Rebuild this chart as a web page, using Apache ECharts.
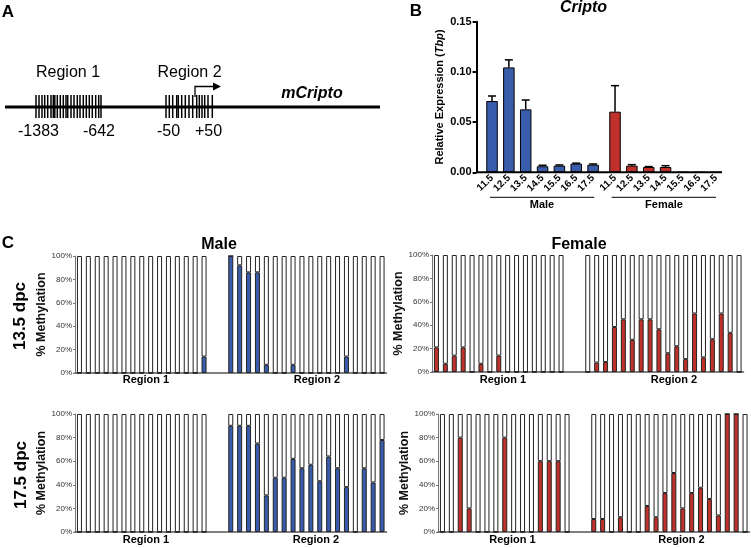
<!DOCTYPE html>
<html><head><meta charset="utf-8">
<script src="https://cdn.jsdelivr.net/npm/echarts@6/dist/echarts.min.js"></script>
<style>html,body{margin:0;padding:0;background:#fff}#c{width:751px;height:548px}</style>
</head><body><div id="c"></div>
<script>
// ---------- Panel B data: Cripto relative expression (Tbp) ----------
const stages = ['11.5','12.5','13.5','14.5','15.5','16.5','17.5'];
const maleExpr   = [0.0710, 0.1045, 0.0627, 0.0060, 0.0066, 0.0086, 0.0076];
const maleErr    = [0.0050, 0.0075, 0.0093, 0.0010, 0.0007, 0.0005, 0.0007];
const femaleExpr = [0.0604, 0.0066, 0.0053, 0.0053, 0, 0, 0];
const femaleErr  = [0.0259, 0.0010, 0.0004, 0.0013, 0, 0, 0];
const exprTicks  = [0, 0.05, 0.10, 0.15];

// ---------- Panel C data: % methylation per CpG ----------
const male135_r1   = [0,0,0,0,0,0,0,0,0,0,0,0,0,0,14];
const male135_r2   = [100,92,86,86,7,0,0,7,0,0,0,0,0,14,0,0,0,0];
const male175_r1   = [0,0,0,0,0,0,0,0,0,0,0,0,0,0,0];
const male175_r2   = [90,90,90,75,31,46,46,62,54,57,43,64,54,38,0,54,42,78];
const female135_r1 = [21,7,14,21,0,7,0,14,0,0,0,0,0,0,0];
const female135_r2 = [0,8,8.5,38.5,45,27.5,45,45,36.5,16,22,11,50,12.5,28,50,33.5,0];
const female175_r1 = [0,0,80,20,0,0,0,80,0,0,0,60,60,60,0];
const female175_r2 = [11,11,0,12.5,0,0,22,12.5,33,50,20,33,37.5,28,14,100,100,0];
const methTicks = [0,20,40,60,80,100];

const BLUE = '#3A5DAB', RED = '#C0312B';
const FF = '"Liberation Sans", Arial, Helvetica, sans-serif';

const chart = echarts.init(document.getElementById('c'));

// ----- grids -----
const grid = [
  {left:483.6, top:21.7, width:117.9, height:150.6},   // B male
  {left:606.6, top:21.7, width:117.9, height:150.6},   // B female
  {left:75,  top:256, width:311.5, height:117},        // C male 13.5
  {left:75,  top:414, width:311.5, height:118},        // C male 17.5
  {left:432, top:255, width:311.5, height:117},        // C female 13.5
  {left:438, top:414, width:311.5, height:118}         // C female 17.5
];

const GAP = 2;
const nSlots = male135_r1.length + GAP + male135_r2.length;
const slotCats = Array.from({length:nSlots}, (_,i)=>String(i));

const xAxis = [], yAxis = [], series = [];
[0,1].forEach(g=>{
  xAxis.push({type:'category', gridIndex:g, data:stages,
    axisLine:{show:false}, axisTick:{show:false},
    axisLabel:{rotate:45, interval:0, fontSize:10, fontWeight:'bold', color:'#000', margin:4, fontFamily:FF}});
});
yAxis.push({type:'value', gridIndex:0, min:exprTicks[0], max:exprTicks[exprTicks.length-1], interval:0.05, offset:7,
  axisLine:{show:true, lineStyle:{color:'#000', width:2}},
  axisTick:{show:true, length:4, lineStyle:{color:'#000', width:2}},
  axisLabel:{formatter:v=>v.toFixed(2), fontSize:11, fontWeight:'bold', color:'#000', margin:5, fontFamily:FF},
  splitLine:{show:false},
  name:'Relative Expression ({i|Tbp})', nameLocation:'middle', nameGap:31,
  nameTextStyle:{fontSize:11, fontWeight:'bold', color:'#000', fontFamily:FF,
    rich:{i:{fontStyle:'italic', fontWeight:'bold', fontSize:11, fontFamily:FF, color:'#000'}}}});
yAxis.push({type:'value', gridIndex:1, min:exprTicks[0], max:exprTicks[exprTicks.length-1], show:false});

function errItem(params, api){
  const x = api.value(0), v = api.value(1), e = api.value(2);
  if (!(e > 0)) return null;
  const p0 = api.coord([x, v]), p1 = api.coord([x, v + e]);
  return {type:'group', children:[
    {type:'line', shape:{x1:p0[0], y1:p0[1], x2:p1[0], y2:p1[1]}, style:{stroke:'#000', lineWidth:1.5}},
    {type:'line', shape:{x1:p1[0]-4, y1:p1[1], x2:p1[0]+4, y2:p1[1]}, style:{stroke:'#000', lineWidth:1.5}}
  ]};
}
[[maleExpr, maleErr, BLUE],[femaleExpr, femaleErr, RED]].forEach(([vals, errs, col], g)=>{
  series.push({type:'bar', xAxisIndex:g, yAxisIndex:g, data:vals, barWidth:11.5,
    itemStyle:{color:col, borderColor:'#000', borderWidth:1}, silent:true});
  series.push({type:'custom', xAxisIndex:g, yAxisIndex:g, renderItem:errItem, z:5,
    encode:{x:0, y:1}, data:vals.map((v,i)=>[i, v, errs[i]]), silent:true});
});

const cPanels = [
  [male135_r1, male135_r2, BLUE, 19.5],
  [male175_r1, male175_r2, BLUE, 19.5],
  [female135_r1, female135_r2, RED, 18.5],
  [female175_r1, female175_r2, RED, 19]
];
cPanels.forEach(([r1, r2, col, ng], k)=>{
  const g = k + 2;
  xAxis.push({type:'category', gridIndex:g, data:slotCats,
    axisLine:{show:true, lineStyle:{color:'#555', width:1.5}}, axisTick:{show:false}, axisLabel:{show:false}});
  yAxis.push({type:'value', gridIndex:g, min:methTicks[0], max:methTicks[methTicks.length-1], interval:20,
    axisLine:{show:true, lineStyle:{color:'#777', width:1}},
    axisTick:{show:true, length:2, lineStyle:{color:'#777'}},
    axisLabel:{formatter:'{value}%', fontSize:8, color:'#333', margin:3, fontFamily:FF},
    splitLine:{show:false},
    name:'% Methylation', nameLocation:'middle', nameGap:ng,
    nameTextStyle:{fontSize:12.5, fontWeight:'bold', color:'#111', fontFamily:FF}});
  const gapArr = Array(GAP).fill('-');
  const meth = r1.concat(gapArr, r2);
  const rest = meth.map(v => v === '-' ? '-' : 100 - v);
  const common = {type:'bar', xAxisIndex:g, yAxisIndex:g, stack:'s'+g, barWidth:5, silent:true};
  series.push(Object.assign({}, common, {data:meth, itemStyle:{color:col, borderColor:'#222', borderWidth:1}}));
  series.push(Object.assign({}, common, {data:rest, itemStyle:{color:'#fff', borderColor:'#222', borderWidth:1}}));
});

// ----- graphic (panel letters, schematic, labels) -----
function txt(x, y, s, opt){
  opt = opt || {};
  return {type:'text', x:x, y:y, rotation:opt.rot || 0, silent:true, z:10,
    style:{text:s, fill:opt.color || '#000', fontSize:opt.size || 12, fontWeight:opt.weight || 'normal',
      fontStyle:opt.style || 'normal', fontFamily:FF,
      align:opt.align || 'center', textAlign:opt.align || 'center',
      verticalAlign:'middle', textVerticalAlign:'middle'}};
}
function line(x1,y1,x2,y2,w,c){
  return {type:'line', silent:true, z:10, shape:{x1,y1,x2,y2}, style:{stroke:c||'#000', lineWidth:w||1}};
}
const gr = [];
// panel letters
gr.push(txt(8, 12.5, 'A', {size:17, weight:'bold'}));
gr.push(txt(416, 11, 'B', {size:17, weight:'bold'}));
gr.push(txt(8, 243, 'C', {size:17, weight:'bold'}));

// panel A schematic
gr.push(line(5, 107, 380, 107, 3));
const r1Ticks = [36,39,42,44.7,47.7,51,53.3,54.8,57.3,60.3,63.3,66,67.7,71,74,77.3,80,83.3,86.3,89.3,92.3,95.7,98.7,101];
const r2Ticks = [166,169.3,172.7,176.7,178.3,181.7,185.3,189,192.7,196.7,199.3,202,204.7,208,212.3];
r1Ticks.concat(r2Ticks).forEach(x => gr.push(line(x, 95, x, 118, 1.5)));
gr.push({type:'polyline', silent:true, z:10, shape:{points:[[195,97],[195,86.5],[214,86.5]]}, style:{stroke:'#000', lineWidth:1.3, fill:null}});
gr.push({type:'polygon', silent:true, z:10, shape:{points:[[213,82.5],[221,86.5],[213,90.5]]}, style:{fill:'#000'}});
gr.push(txt(68, 72.5, 'Region 1', {size:16}));
gr.push(txt(189.5, 72.5, 'Region 2', {size:16}));
gr.push(txt(312, 94, 'mCripto', {size:16, weight:'bold', style:'italic'}));
gr.push(txt(38.5, 132, '-1383', {size:16}));
gr.push(txt(99, 132, '-642', {size:16}));
gr.push(txt(168.5, 132, '-50', {size:16}));
gr.push(txt(208.5, 132, '+50', {size:16}));

// panel B title, baseline, group labels
gr.push(txt(583.5, 8, 'Cripto', {size:16, weight:'bold', style:'italic'}));
gr.push(line(476.7, 172.3, 722, 172.3, 2));
gr.push(line(490, 197.3, 594.3, 197.3, 1));
gr.push(line(611.7, 197.3, 716, 197.3, 1));
gr.push(txt(542, 204.5, 'Male', {size:11, weight:'bold'}));
gr.push(txt(664, 204.5, 'Female', {size:11, weight:'bold'}));

// panel C titles & labels
gr.push(txt(219, 245, 'Male', {size:16, weight:'bold'}));
gr.push(txt(579, 245, 'Female', {size:16, weight:'bold'}));
gr.push(txt(20.5, 316, '13.5 dpc', {size:17, weight:'bold', rot:Math.PI/2}));
gr.push(txt(21, 475, '17.5 dpc', {size:17, weight:'bold', rot:Math.PI/2}));
[[146,380,317,380],[146,540,316,540],[503,380,674,380],[512.5,540,681.5,540]].forEach(p=>{
  gr.push(txt(p[0], p[1], 'Region 1', {size:11, weight:'bold'}));
  gr.push(txt(p[2], p[3], 'Region 2', {size:11, weight:'bold'}));
});

chart.setOption({
  animation:false,
  backgroundColor:'#fff',
  textStyle:{fontFamily:FF},
  grid:grid, xAxis:xAxis, yAxis:yAxis, series:series, graphic:gr
});
</script></body></html>
